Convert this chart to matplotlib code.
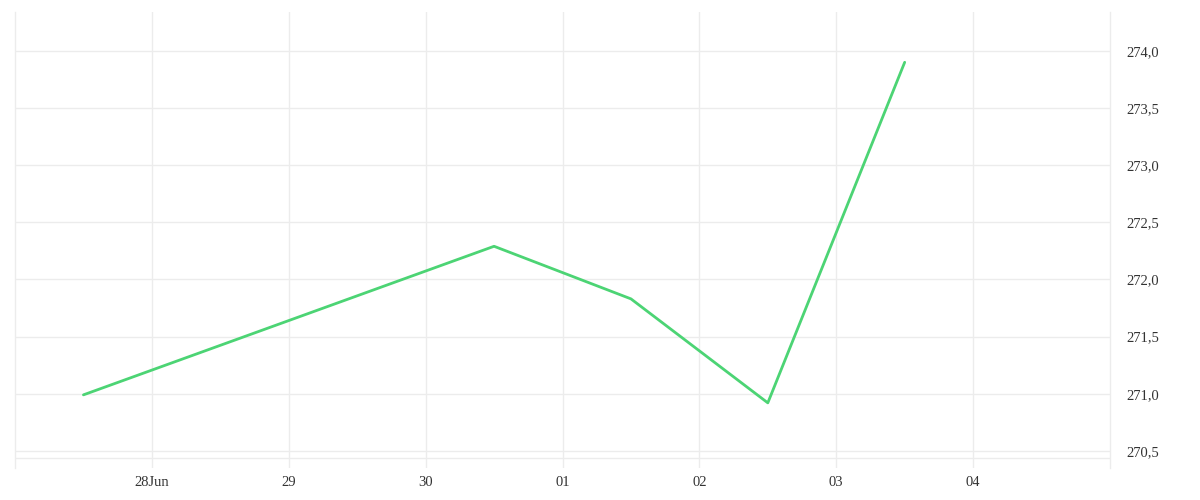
import datetime as dt

import matplotlib.pyplot as plt
import matplotlib.dates as mdates
from matplotlib.ticker import FuncFormatter

# data
dates = [
    dt.datetime(2020, 6, 27, 12),
    dt.datetime(2020, 6, 30, 12),
    dt.datetime(2020, 7, 1, 12),
    dt.datetime(2020, 7, 2, 12),
    dt.datetime(2020, 7, 3, 12),
]
prices = [270.99, 272.29, 271.83, 270.92, 273.90]
y_ticks = [270.5, 271.0, 271.5, 272.0, 272.5, 273.0, 273.5, 274.0]

grid_color = "#ececec"
text_color = "#333333"
plt.rcParams["font.family"] = ["Liberation Serif", "DejaVu Serif"]


def day_label(v, pos):
    d = mdates.num2date(v)
    return d.strftime("%d%b") if d.day == 28 else d.strftime("%d")


fig = plt.figure(figsize=(12, 5), dpi=100)
ax = fig.add_axes([15 / 1200, 32 / 500, 1095 / 1200, 456 / 500])

ax.plot(dates, prices, color="#4cd474", linewidth=2, solid_capstyle="round")

ax.set_xlim(dt.datetime(2020, 6, 27), dt.datetime(2020, 7, 5))
ax.set_ylim(270.35, 274.34)

ax.xaxis.set_major_locator(mdates.DayLocator())
ax.xaxis.set_major_formatter(FuncFormatter(day_label))
ax.set_xticks(ax.get_xticks()[1:-1])

ax.yaxis.tick_right()
ax.set_yticks(y_ticks)
ax.yaxis.set_major_formatter(FuncFormatter(lambda v, pos: f"{v:.1f}".replace(".", ",")))

ax.grid(True, color=grid_color, linewidth=1)
ax.axhline(270.44, color=grid_color, linewidth=1)
ax.tick_params(axis="x", length=0, pad=6, labelsize=10.5, labelcolor=text_color)
ax.tick_params(axis="y", length=0, pad=12, labelsize=10.5, labelcolor=text_color)

for side in ["top", "bottom"]:
    ax.spines[side].set_visible(False)
for side in ["left", "right"]:
    ax.spines[side].set_color(grid_color)
    ax.spines[side].set_linewidth(1)

fig.savefig("out.png", dpi=100)
